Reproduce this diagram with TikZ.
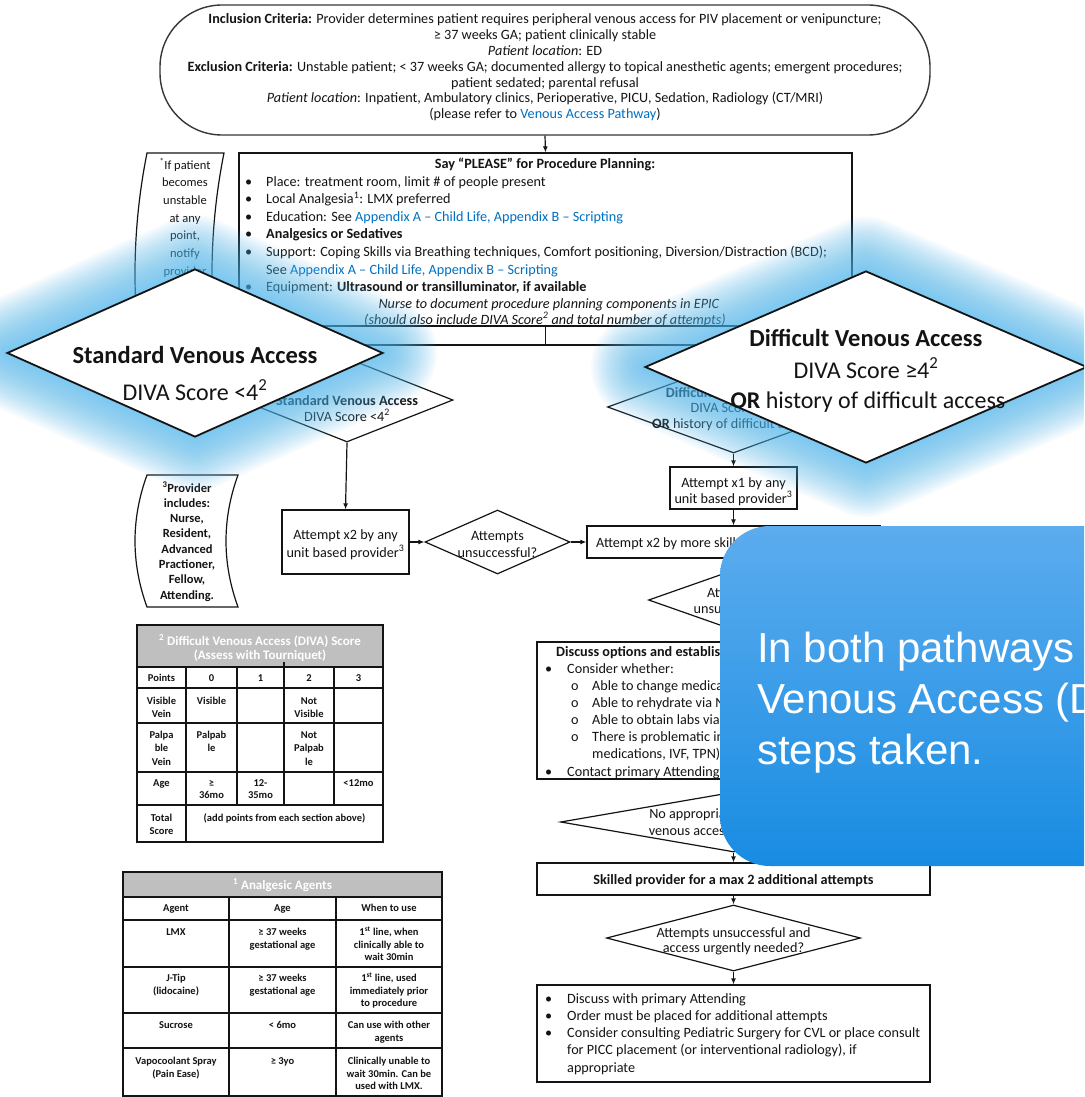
\documentclass[tikz,border=0pt]{standalone}
\usepackage{fontspec}
\setmainfont{Carlito}
\newfontfamily\arialf{Liberation Sans}
\usetikzlibrary{shapes.geometric,arrows.meta}
\definecolor{lnk}{RGB}{0,112,192}
\definecolor{hdr}{RGB}{191,191,191}
\definecolor{glowc}{RGB}{80,185,240}
\definecolor{calA}{RGB}{92,172,238}
\definecolor{calB}{RGB}{40,152,238}
\definecolor{calC}{RGB}{24,140,226}
\definecolor{ink}{RGB}{20,20,20}
\newcommand\myfs[2]{\fontsize{#1}{#2}\selectfont}
\newcommand\stk[6]{\foreach \tx [count=\k] in {#6} {\node[#2] (#1-\k) at (#3,{#4+(\k-1)*#5}) {\tx};}}
\newcommand\glowdia[4]{\foreach \w in {108,104,...,4}{\draw[glowc, line width=\w pt, line join=round, draw opacity=0.045] ({#1-#3},#2) -- (#1,{#2-#4}) -- ({#1+#3},#2) -- (#1,{#2+#4}) -- cycle;}}
\begin{document}
\begin{tikzpicture}[x=1pt,y=-1pt,
  tc/.style={anchor=base, inner sep=0pt, text=ink},
  tw/.style={anchor=base west, inner sep=0pt, text=ink},
  f13/.style={font=\myfs{14.2}{16}},
  f12/.style={font=\myfs{12.5}{15}},
  f12b/.style={font=\myfs{12.5}{15}\bfseries},
  ft/.style={font=\myfs{10.5}{13}\bfseries},
  fh/.style={font=\myfs{13}{13}\bfseries, text=white},
  bx/.style={draw=ink, line width=1.2pt, fill=white, inner sep=0pt},
  dm/.style={draw=ink, line width=1.2pt, fill=white, shape=diamond, inner sep=0pt, aspect=1},
  arr/.style={draw=ink, line width=1.2pt, -{Latex[length=6pt,width=5pt]}},
  ln/.style={draw=ink, line width=1.2pt},
  tbl/.style={draw=ink, line width=1.3pt},
  notebox/.style={draw=ink, line width=1.2pt, fill=white}]
\useasboundingbox (0,0) rectangle (1084,1097);
\fill[white] (0,0) rectangle (1084,1097);
\clip (0,0) rectangle (1084,1097);

% ---------- inclusion oval ----------
\node[draw=ink!85, line width=1.4pt, rounded corners=62pt, minimum width=770, minimum height=130, inner sep=0pt, fill=white] (incl) at (545,70) {};
\stk{inc}{tc,f13}{545}{23.5}{15.9}{{\textbf{Inclusion Criteria:} Provider determines patient requires peripheral venous access for PIV placement or venipuncture;},{≥ 37 weeks GA; patient clinically stable},{\textit{Patient location}: ED},{\textbf{Exclusion Criteria:} Unstable patient; < 37 weeks GA; documented allergy to topical anesthetic agents; emergent procedures;},{patient sedated; parental refusal},{\textit{Patient location}: Inpatient, Ambulatory clinics, Perioperative, PICU, Sedation, Radiology (CT/MRI)},{(please refer to \textcolor{lnk}{Venous Access Pathway})}}

% ---------- procedure planning ----------
\node[bx, minimum width=613, minimum height=173] (proc) at (545.5,239.5) {};
\draw[arr] (incl.south) -- (proc.north);
\node[tc,f13] (ptitle) at (545,168) {\textbf{Say “PLEASE” for Procedure Planning:}};
\stk{pb}{tw,f13}{245}{186}{17.6}{•,•,•,•,•}
\node[tw,f13] (pb-7) at (245,291.6) {•};
\stk{pl}{tw,f13}{266}{186}{17.6}{{Place: treatment room, limit \# of people present},{Local Analgesia\textsuperscript{1}: LMX preferred},{Education: See \textcolor{lnk}{Appendix A – Child Life, Appendix B – Scripting}},{\textbf{Analgesics or Sedatives}},{Support: Coping Skills via Breathing techniques, Comfort positioning, Diversion/Distraction (BCD);},{See \textcolor{lnk}{Appendix A – Child Life, Appendix B – Scripting}},{Equipment: \textbf{Ultrasound or transilluminator, if available}}}
\node[tc,f13] (pit1) at (549,308.5) {\textit{Nurse to document procedure planning components in EPIC}};
\node[tc,f13] (pit2) at (545,324) {\textit{(should also include DIVA Score\textsuperscript{2} and total number of attempts)}};

% ---------- note 1 ----------
\draw[notebox] (147,153) -- (224,153) .. controls (208,233) and (208,315) .. (224,395) -- (147,395) .. controls (131,315) and (131,233) .. cycle;
\stk{n1}{tc,f12}{185}{169}{17.7}{{\textsuperscript{*}If patient},becomes,unstable,{at any},{point,},notify,provider,and}

% ---------- branch ----------
\coordinate (br) at (545.5,345);
\node[dm, minimum width=212, minimum height=84] (ds) at (347,400) {};
\node[dm, minimum width=252, minimum height=92] (dd) at (733.5,407) {};
\draw[ln] (proc.south) -- (br);
\draw[arr] (br) -| (ds.north);
\draw[arr] (br) -| (dd.north);
\node[tc,f13] (dst1) at (347,405) {\textbf{Standard Venous Access}};
\node[tc,f13] (dst2) at (347,421) {DIVA Score <4\textsuperscript{2}};
\node[tc,f13] (ddt1) at (733.5,397) {\textbf{Difficult Venous Access}};
\node[tc,f13] (ddt2) at (733.5,412) {DIVA Score ≥4\textsuperscript{2}};
\node[tc,f13] (ddt3) at (733.5,428) {\textbf{OR} history of difficult access};

% ---------- standard path ----------
\node[bx, minimum width=127, minimum height=64] (a2) at (345.5,542) {};
\node[tc,f13] (a2t1) at (345.5,539) {Attempt x2 by any};
\node[tc,f13] (a2t2) at (345.5,557) {unit based provider\textsuperscript{3}};
\node[dm, minimum width=145, minimum height=64] (u1) at (497.5,542) {};
\node[tc,f13] (u1t1) at (497.5,540) {Attempts};
\node[tc,f13] (u1t2) at (497.5,557) {unsuccessful?};
\draw[arr] (ds.south) -- (a2.north);
\draw[arr] (a2.east) -- (u1.west);

% ---------- difficult path ----------
\node[bx, minimum width=127, minimum height=42] (a1) at (733.5,488) {};
\node[tc,f13] (a1t1) at (733.5,487) {Attempt x1 by any};
\node[tc,f13] (a1t2) at (733.5,503) {unit based provider\textsuperscript{3}};
\node[bx, minimum width=293, minimum height=32] (s2) at (733.5,542) {};
\node[tw,f13] (s2t) at (596,547) {Attempt x2 by more skilled provider\textsuperscript{3}};
\draw[arr] (u1.east) -- (s2.west);
\draw[arr] (dd.south) -- (a1.north);
\draw[arr] (a1.south) -- (s2.north);
\node[dm, minimum width=170, minimum height=60] (u2) at (733.5,600) {};
\node[tc,f13] (u2t1) at (733.5,597) {Attempts};
\node[tc,f13] (u2t2) at (733.5,613) {unsuccessful?};
\draw[arr] (s2.south) -- (u2.north);
\node[bx, minimum width=393, minimum height=137] (disc) at (733.5,710.5) {};
\draw[arr] (u2.south) -- (disc.north);
\node[tw,f13] (dt0) at (556,656) {\textbf{Discuss options and establish plan of care:}};
\node[tw,f13] (db1) at (545,673) {•};
\node[tw,f13] (dl1) at (567,673) {Consider whether:};
\stk{do}{tw,f13}{571}{690}{17.2}{o,o,o,o}
\stk{dl}{tw,f13}{592}{690}{17.2}{{Able to change medications to oral route},{Able to rehydrate via NG or PO},{Able to obtain labs via capillary sample},{There is problematic infusion (e.g. vesicant},{medications, IVF, TPN)}}
\node[tw,f13] (db2) at (545,776) {•};
\node[tw,f13] (dl9) at (567,776) {Contact primary Attending};
\node[dm, minimum width=346, minimum height=60] (na) at (733.5,822) {};
\node[tc,f13] (nat1) at (733.5,818) {No appropriate alternative to};
\node[tc,f13] (nat2) at (722,835) {venous access identified?};
\draw[arr] (disc.south) -- (na.north);
\node[bx, minimum width=393, minimum height=32] (sk) at (733.5,879) {};
\node[tc,f13] (skt) at (733.5,884) {\textbf{Skilled provider for a max 2 additional attempts}};
\draw[arr] (na.south) -- (sk.north);
\node[dm, minimum width=254, minimum height=66] (u3) at (733.5,938) {};
\node[tc,f13] (u3t1) at (733.5,937) {Attempts unsuccessful and};
\node[tc,f13] (u3t2) at (733.5,952) {access urgently needed?};
\draw[arr] (sk.south) -- (u3.north);
\node[bx, minimum width=393, minimum height=97] (fin) at (733.5,1033.5) {};
\draw[arr] (u3.south) -- (fin.north);
\stk{fb}{tw,f13}{545}{1003}{17.3}{•,•,•}
\stk{fl}{tw,f13}{567}{1003}{17.3}{{Discuss with primary Attending},{Order must be placed for additional attempts},{Consider consulting Pediatric Surgery for CVL or place consult},{for PICC placement (or interventional radiology), if},{appropriate}}

% ---------- provider note ----------
\draw[notebox] (147,475) -- (238,475) .. controls (222,519) and (222,563) .. (238,607) -- (147,607) .. controls (131,563) and (131,519) .. cycle;
\stk{n2}{tc,f12b}{187}{492}{15.3}{{\textsuperscript{3}Provider},{includes:},{Nurse,},{Resident,},Advanced,{Practioner,},{Fellow,},{Attending.}}

% ---------- DIVA table ----------
\fill[hdr] (137,625) rectangle (383,667);
\draw[tbl] (137,625) rectangle (383,842);
\foreach \yy in {667,688,723,772,805} {\draw[tbl] (137,\yy) -- (383,\yy);}
\draw[tbl] (186,667) -- (186,842);
\draw[tbl] (237,667) -- (237,805);
\draw[tbl] (284,662) -- (284,805);
\draw[tbl] (334,667) -- (334,805);
\node[tc,fh] (dh1) at (260,645) {\textsuperscript{2} Difficult Venous Access (DIVA) Score};
\node[tc,fh] (dh2) at (260,659) {(Assess with Tourniquet)};
\node[tc,ft] (dp0) at (161.5,681.5) {Points};
\node[tc,ft] (dp1) at (211.5,681.5) {0};
\node[tc,ft] (dp2) at (260.5,681.5) {1};
\node[tc,ft] (dp3) at (309,681.5) {2};
\node[tc,ft] (dp4) at (358.5,681.5) {3};
\stk{dv0}{tc,ft}{161.5}{704}{13}{Visible,Vein}
\node[tc,ft] (dv1) at (211.5,704) {Visible};
\stk{dv3}{tc,ft}{309}{704}{13}{Not,Visible}
\stk{dq0}{tc,ft}{161.5}{738}{13.5}{Palpa,ble,Vein}
\stk{dq1}{tc,ft}{211.5}{738}{13.5}{Palpab,le}
\stk{dq3}{tc,ft}{309}{738}{13.5}{Not,Palpab,le}
\node[tc,ft] (da0) at (161.5,786) {Age};
\stk{da1}{tc,ft}{211.5}{786}{12.5}{≥,36mo}
\stk{da2}{tc,ft}{260.5}{786}{12.5}{12-,35mo}
\node[tc,ft] (da4) at (358.5,786) {<12mo};
\stk{dt0}{tc,ft}{161.5}{821}{13}{Total,Score}
\node[tc,ft] (dt1) at (284.5,821) {(add points from each section above)};

% ---------- analgesic table ----------
\fill[hdr] (123,872) rectangle (442,897);
\draw[tbl] (123,872) rectangle (442,1096);
\foreach \yy in {897,920,967,1013,1048} {\draw[tbl] (123,\yy) -- (442,\yy);}
\draw[tbl] (229,897) -- (229,1096);
\draw[tbl] (336,897) -- (336,1096);
\node[tc,fh] (ah) at (282.5,889) {\textsuperscript{1} Analgesic Agents};
\node[tc,ft] (ag1) at (176,911.5) {Agent};
\node[tc,ft] (ag2) at (282.5,911.5) {Age};
\node[tc,ft] (ag3) at (389,911.5) {When to use};
\node[tc,ft] (al1) at (176,935.5) {LMX};
\stk{al2}{tc,ft}{282.5}{935.5}{12.5}{{≥ 37 weeks},{gestational age}}
\stk{al3}{tc,ft}{389}{935.5}{12.5}{{1\textsuperscript{st} line, when},{clinically able to},{wait 30min}}
\stk{aj1}{tc,ft}{176}{981.5}{13}{J-Tip,(lidocaine)}
\stk{aj2}{tc,ft}{282.5}{981.5}{12.5}{{≥ 37 weeks},{gestational age}}
\stk{aj3}{tc,ft}{389}{981.5}{12.5}{{1\textsuperscript{st} line, used},{immediately prior},{to procedure}}
\node[tc,ft] (as1) at (176,1028.5) {Sucrose};
\node[tc,ft] (as2) at (282.5,1028.5) {< 6mo};
\stk{as3}{tc,ft}{389}{1028.5}{12.5}{{Can use with other},{agents}}
\stk{av1}{tc,ft}{176}{1064.5}{12.5}{{Vapocoolant Spray},{(Pain Ease)}}
\node[tc,ft] (av2) at (282.5,1064.5) {≥ 3yo};
\stk{av3}{tc,ft}{389}{1064.5}{12.5}{{Clinically unable to},{wait 30min. Can be},{used with LMX.}}

% ---------- glowing overlay diamonds ----------
\glowdia{195}{353}{188}{84}
\glowdia{866}{367}{221}{96}
\node[dm, line width=1.8pt, minimum width=376, minimum height=168] (sva) at (195,353) {};
\node[tc, font=\myfs{24.5}{30}\bfseries] (svat1) at (195,363) {Standard Venous Access};
\node[tc, font=\myfs{24}{30}] (svat2) at (195,400) {DIVA Score <4\textsuperscript{2}};
\node[dm, line width=1.8pt, minimum width=442, minimum height=192] (dva) at (866,367) {};
\node[tc, font=\myfs{24.5}{30}\bfseries] (dvat1) at (866,346) {Difficult Venous Access};
\node[tc, font=\myfs{24}{30}] (dvat2) at (866,378) {DIVA Score ≥4\textsuperscript{2}};
\node[tc, font=\myfs{24}{30}] (dvat3) at (868,408) {\textbf{OR} history of difficult access};

% ---------- callout ----------
\shade[top color=calA, middle color=calB, bottom color=calC, rounded corners=50pt] (720,526) rectangle (1160,866);
\node[anchor=base west, inner sep=0pt, font=\arialf\myfs{42}{50}, text=white] (ct1) at (757,662) {In both pathways};
\node[anchor=base west, inner sep=0pt, font=\arialf\myfs{42}{50}, text=white] (ct2) at (757,713) {Venous Access (DIVA)};
\node[anchor=base west, inner sep=0pt, font=\arialf\myfs{42}{50}, text=white] (ct3) at (757,764) {steps taken.};
\end{tikzpicture}
\end{document}
